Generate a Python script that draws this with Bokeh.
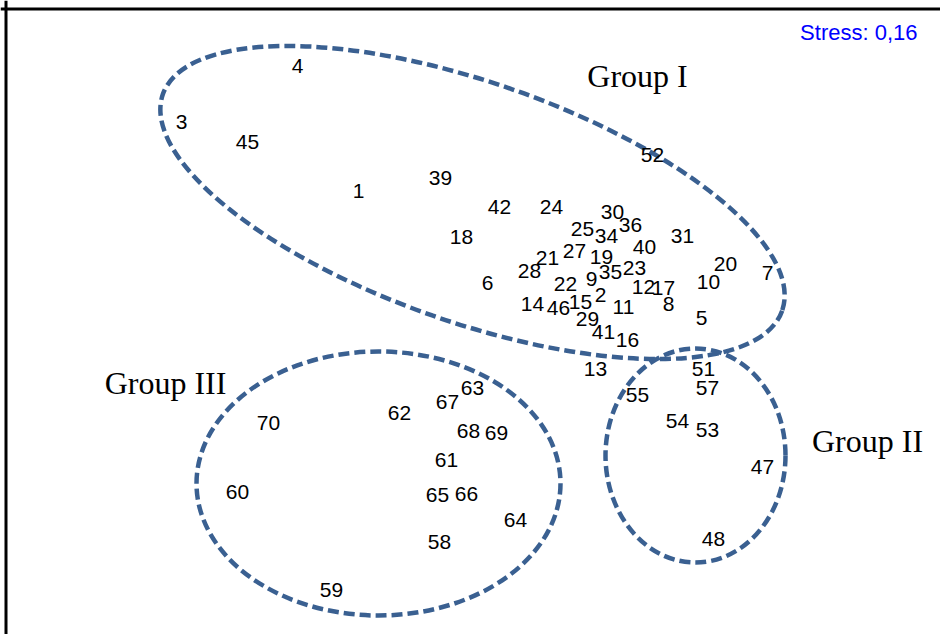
import math
from bokeh.plotting import figure
from bokeh.models import Range1d, Span, ColumnDataSource
from bokeh.core.properties import value
from bokeh.embed import file_html
from bokeh.resources import INLINE

# Sample labels and their ordination positions (dim1, dim2)
g1_labels = ["4", "3", "45", "1", "39", "52", "42", "24", "30", "25", "34", "36", "18", "31",
             "40", "21", "27", "19", "35", "23", "28", "9", "22", "6", "12", "17", "8", "10",
             "20", "7", "2", "15", "14", "46", "11", "29", "5", "41", "16", "13"]
g1_x = [297, 181, 247, 358, 440, 652, 499, 551, 612, 582, 606, 630, 461, 682,
        644, 547, 574, 601, 610, 634, 529, 591, 565, 487, 643, 663, 668, 708,
        725, 767, 600, 580, 532, 558, 623, 587, 701, 603, 627, 595]
g1_y = [569, 513, 493, 444, 457, 480, 428, 428, 423, 406, 399, 410, 398, 399,
        388, 377, 384, 378, 363, 367, 364, 356, 351, 352, 348, 347, 331, 353,
        371, 362, 340, 333, 331, 327, 328, 316, 317, 303, 295, 266]

g2_labels = ["51", "57", "55", "54", "53", "47", "48"]
g2_x = [703, 707, 637, 677, 707, 762, 713]
g2_y = [266, 247, 240, 214, 205, 168, 96]

g3_labels = ["70", "60", "62", "67", "63", "68", "69", "61", "65", "66", "64", "58", "59"]
g3_x = [268, 237, 399, 447, 472, 468, 496, 446, 437, 466, 515, 439, 331]
g3_y = [212, 143, 222, 233, 247, 204, 202, 175, 140, 141, 115, 93, 45]

# Group envelopes (centre, width, height, angle in degrees)
grp_names = ["Group I", "Group II", "Group III"]
env_x = [472, 695, 378]
env_y = [432, 179, 151]
env_w = [656, 180, 364]
env_h = [240, 214, 264]
env_angle = [-19.25, 0, 0]

grp_label_x = [637, 867, 165]
grp_label_y = [559, 194, 252]

stress_text = "Stress: 0,16"

p = figure(width=940, height=634, output_backend="svg", toolbar_location=None,
           x_range=Range1d(0, 940), y_range=Range1d(0, 634), min_border=0)
p.axis.visible = False
p.grid.visible = False
p.outline_line_color = None
p.background_fill_color = "white"

# frame (left and top only visible)
p.add_layout(Span(location=5.5, dimension="height", line_color="black", line_width=3))
p.add_layout(Span(location=625.5, dimension="width", line_color="black", line_width=3))

env_src = ColumnDataSource(dict(x=env_x, y=env_y, w=env_w, h=env_h,
                                a=[math.radians(v) for v in env_angle]))
p.ellipse(x="x", y="y", width="w", height="h", angle="a", source=env_src,
          fill_color=None, line_color="#3A6091", line_width=4.5, line_dash="11 5")

all_labels = g1_labels + g2_labels + g3_labels
all_x = g1_x + g2_x + g3_x
all_y = g1_y + g2_y + g3_y
p.text(x=all_x, y=all_y, text=all_labels, text_align="center", text_baseline="middle",
       text_font=value("Liberation Sans"), text_font_size="21px", text_color="black")

p.text(x=grp_label_x, y=grp_label_y, text=grp_names, text_align="center",
       text_baseline="middle", text_font=value("Liberation Serif"),
       text_font_size="32px", text_color="black")

p.text(x=[917], y=[602], text=[stress_text], text_align="right", text_baseline="middle",
       text_font=value("Liberation Sans"), text_font_size="22px", text_color="#0000FF")

open("out.html", "w").write(file_html(p, INLINE))
